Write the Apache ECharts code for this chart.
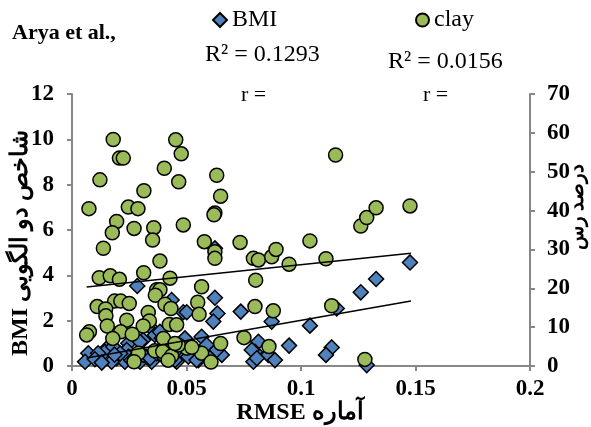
<!DOCTYPE html>
<html>
<head>
<meta charset="utf-8">
<script src="https://cdn.jsdelivr.net/npm/echarts@6/dist/echarts.min.js"></script>
<style>
  html, body { margin: 0; padding: 0; background: #fff; }
  #chart { width: 591px; height: 427px; }
</style>
</head>
<body>
<div id="chart"></div>
<script>
// BMI points: RMSE, BMI value (left axis)
const bmiRmse = [0.0285, 0.0435, 0.0486, 0.0355, 0.0311, 0.0246, 0.0159, 0.0071, 0.0115, 0.0057,
  0.0144, 0.0195, 0.0231, 0.0275, 0.0326, 0.0362, 0.0392, 0.0421, 0.0464, 0.0297,
  0.0348, 0.0173, 0.0624, 0.0624, 0.0501, 0.0635, 0.0617, 0.0737, 0.0872, 0.0493,
  0.0566, 0.0588, 0.0457, 0.0508, 0.0552, 0.0632, 0.0654, 0.0457, 0.0814, 0.0799,
  0.0792, 0.0857, 0.0886, 0.0948, 0.1039, 0.1156, 0.1261, 0.1328, 0.1476, 0.1134,
  0.1109, 0.1287, 0.0114, 0.0180, 0.0239, 0.0297, 0.0384, 0.0311, 0.0341, 0.0370,
  0.0246, 0.0450, 0.0632, 0.0602, 0.0544, 0.0785, 0.0807, 0.0100, 0.0130, 0.0210,
  0.0260, 0.0400, 0.0186];
const bmiValue = [3.53, 2.91, 2.37, 1.59, 1.15, 1.00, 0.85, 0.56, 0.41, 0.19,
  0.63, 0.34, 0.19, 0.41, 0.41, 1.37, 1.22, 0.85, 0.49, 0.19,
  0.19, 0.19, 5.19, 3.01, 2.37, 2.32, 1.96, 2.40, 1.96, 1.22,
  1.29, 0.93, 0.71, 0.41, 0.26, 0.63, 0.49, 0.19, 1.07, 0.63,
  0.19, 0.49, 0.26, 0.90, 1.78, 2.54, 3.25, 3.84, 4.57, 0.82,
  0.49, 0.04, 0.56, 0.85, 0.71, 1.07, 1.51, 0.49, 0.34, 0.56,
  0.41, 0.26, 0.71, 0.34, 0.26, 0.71, 0.34, 0.30, 0.15, 0.55,
  0.25, 0.40, 0.50];

// clay points: RMSE, clay percent (right axis)
const clayRmse = [0.0180, 0.0453, 0.0207, 0.0224, 0.0477, 0.0403, 0.0122, 0.0466, 0.0314, 0.0074,
  0.0246, 0.0288, 0.0195, 0.0176, 0.0271, 0.0357, 0.0486, 0.0632, 0.0649, 0.0624,
  0.0620, 0.0137, 0.0352, 0.0384, 0.0119, 0.0167, 0.0207, 0.0313, 0.0428, 0.0370,
  0.0384, 0.0364, 0.0186, 0.0213, 0.0250, 0.0110, 0.0147, 0.0148, 0.0154, 0.0239,
  0.0333, 0.0338, 0.0311, 0.0406, 0.0432, 0.0425, 0.0076, 0.0064, 0.0213, 0.0263,
  0.0178, 0.0399, 0.0290, 0.0271, 0.0362, 0.0396, 0.0435, 0.0420, 0.0578, 0.0624,
  0.0624, 0.0734, 0.0792, 0.0814, 0.0872, 0.0891, 0.0948, 0.0802, 0.0566, 0.0549,
  0.0555, 0.0799, 0.0879, 0.0457, 0.0751, 0.0649, 0.0501, 0.0464, 0.0566, 0.0607,
  0.0860, 0.1039, 0.1109, 0.1151, 0.1261, 0.1287, 0.1328, 0.1476, 0.1134, 0.1279,
  0.0523, 0.0450];
const clayValue = [58.3, 58.2, 53.5, 53.5, 54.6, 50.9, 47.9, 47.4, 45.1, 40.5,
  40.9, 40.5, 37.2, 34.3, 35.4, 35.6, 36.3, 49.1, 43.7, 39.4,
  38.9, 30.3, 32.4, 27.0, 22.7, 23.2, 22.3, 24.0, 22.6, 19.6,
  19.6, 18.2, 16.7, 16.7, 16.1, 15.3, 14.7, 12.9, 10.3, 11.8,
  13.8, 11.6, 10.3, 15.9, 14.8, 10.7, 8.8, 8.0, 8.8, 8.2,
  7.1, 7.1, 3.3, 1.1, 3.9, 3.7, 2.6, 1.5, 32.0, 29.4,
  27.7, 31.8, 27.7, 27.3, 28.1, 30.0, 26.2, 22.1, 20.4, 16.4,
  13.3, 15.3, 14.2, 10.6, 7.3, 5.8, 4.6, 5.4, 3.3, 1.0,
  5.0, 32.2, 27.6, 54.3, 36.0, 38.2, 40.7, 41.2, 15.5, 1.7,
  4.8, 5.8];

// linear trend lines, end points
const trendRmse = [0.0064, 0.148];
const bmiTrend = [0.35, 2.87];
const clayTrend = [20.3, 29.0];

const pair = (xs, ys) => xs.map((x, i) => [x, ys[i]]);

const serif = "'Liberation Serif', 'Times New Roman', 'DejaVu Serif', serif";
const axisColor = '#878787';

const chart = echarts.init(document.getElementById('chart'));

const valueAxisCommon = {
  axisLine: { show: true, lineStyle: { color: axisColor, width: 2 } },
  axisTick: { show: true, inside: false, length: 5, lineStyle: { color: axisColor, width: 2 } },
  splitLine: { show: false },
  axisLabel: { color: '#000', fontFamily: serif, fontWeight: 'bold', fontSize: 23 }
};

const option = {
  animation: false,
  grid: { left: 72, right: 61, top: 94, bottom: 61, containLabel: false, outerBoundsMode: 'none' },
  title: {
    text: 'Arya et al.,',
    left: 7, top: 17,
    textStyle: { fontFamily: serif, fontWeight: 'bold', fontSize: 22, color: '#000' }
  },
  legend: [
    {
      data: ['BMI'], left: 207, top: 3, itemWidth: 14, itemHeight: 14,
      textStyle: { fontFamily: serif, fontSize: 24, color: '#000' }
    },
    {
      data: ['clay'], left: 410, top: 3, itemWidth: 13, itemHeight: 13,
      textStyle: { fontFamily: serif, fontSize: 24, color: '#000' }
    }
  ],
  xAxis: Object.assign({}, valueAxisCommon, {
    type: 'value', min: 0, max: 0.2, interval: 0.05,
    axisLabel: Object.assign({}, valueAxisCommon.axisLabel, { margin: 12 })
  }),
  yAxis: [
    Object.assign({}, valueAxisCommon, {
      type: 'value', min: 0, max: 12, interval: 2, position: 'left',
      axisLabel: Object.assign({}, valueAxisCommon.axisLabel, { margin: 18 })
    }),
    Object.assign({}, valueAxisCommon, {
      type: 'value', min: 0, max: 70, interval: 10, position: 'right',
      axisLabel: Object.assign({}, valueAxisCommon.axisLabel, { margin: 17 })
    })
  ],
  graphic: [
    { type: 'text', left: 205, top: 43, style: { text: 'R² = 0.1293', font: '24px ' + serif, fill: '#000' } },
    { type: 'text', left: 388, top: 50, style: { text: 'R² = 0.0156', font: '24px ' + serif, fill: '#000' } },
    { type: 'text', left: 241, top: 84, style: { text: 'r =', font: '22px ' + serif, fill: '#000' } },
    { type: 'text', left: 423, top: 84, style: { text: 'r =', font: '22px ' + serif, fill: '#000' } },
    {
      type: 'text', x: 21, y: 243, rotation: Math.PI / 2,
      style: { text: 'BMI شاخص دو الگویی', font: 'bold 24px ' + serif, fill: '#000', align: 'center', verticalAlign: 'middle' }
    },
    {
      type: 'text', x: 578, y: 207, rotation: Math.PI / 2,
      style: { text: 'درصد رس', font: 'bold 20px ' + serif, fill: '#000', align: 'center', verticalAlign: 'middle' }
    },
    {
      type: 'text', x: 300, y: 413,
      style: { text: 'RMSE آماره', font: 'bold 24px ' + serif, fill: '#000', align: 'center', verticalAlign: 'middle' }
    }
  ],
  series: [
    {
      name: 'BMI', type: 'scatter', yAxisIndex: 0, symbol: 'diamond', symbolSize: 15,
      itemStyle: { color: '#4f81bd', borderColor: '#000', borderWidth: 1.5, opacity: 1 },
      data: pair(bmiRmse, bmiValue), z: 2
    },
    {
      name: 'clay', type: 'scatter', yAxisIndex: 1, symbol: 'circle', symbolSize: 14,
      itemStyle: { color: '#9bbb59', borderColor: '#000', borderWidth: 1.5, opacity: 1 },
      data: pair(clayRmse, clayValue), z: 3
    },
    {
      type: 'line', yAxisIndex: 0, symbol: 'none', silent: true,
      lineStyle: { color: '#000', width: 1.5 },
      data: pair(trendRmse, bmiTrend), z: 4
    },
    {
      type: 'line', yAxisIndex: 1, symbol: 'none', silent: true,
      lineStyle: { color: '#000', width: 1.5 },
      data: pair(trendRmse, clayTrend), z: 4
    }
  ]
};

chart.setOption(option);
</script>
</body>
</html>
